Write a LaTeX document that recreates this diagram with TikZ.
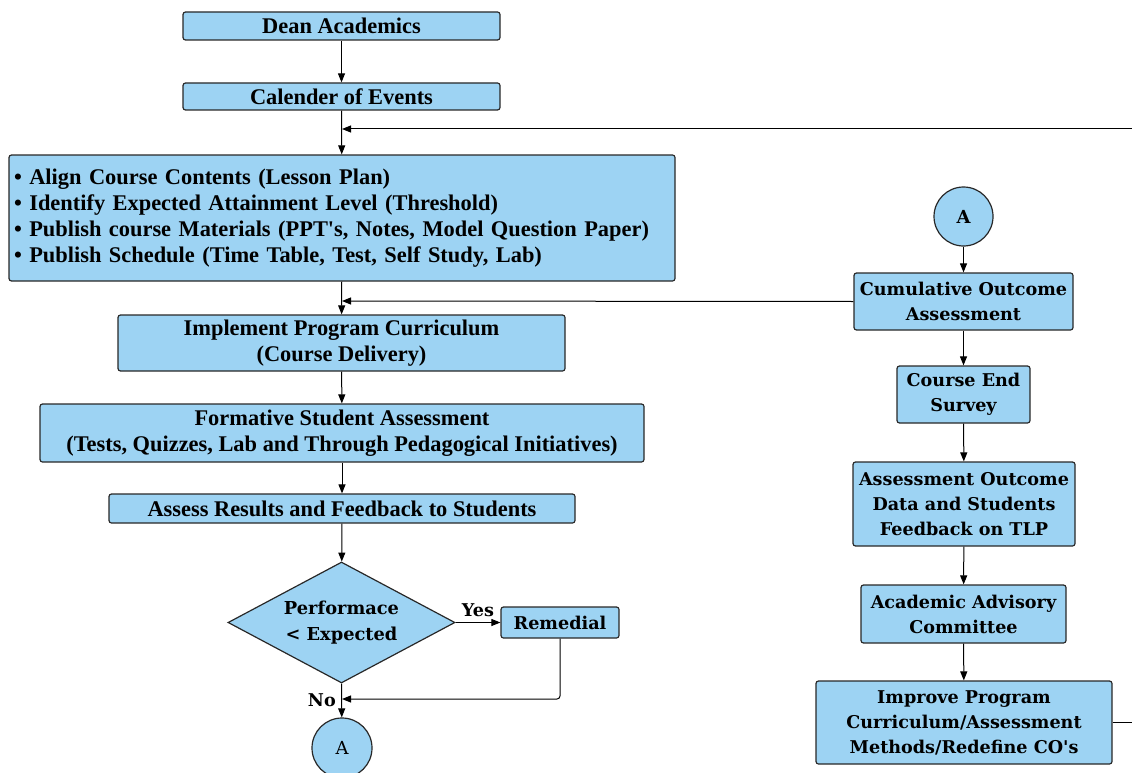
\documentclass[tikz,border=0pt]{standalone}
\usepackage{fontspec}
\setmainfont{Liberation Serif}[Ligatures=TeXOff]
\newfontfamily\dvs{DejaVu Serif}[Ligatures=TeXOff]
\usetikzlibrary{shapes.geometric,arrows.meta}
\definecolor{boxblue}{RGB}{157,211,243}
\definecolor{edge}{RGB}{40,40,40}
\tikzset{
  box/.style={draw=edge,line width=1.2pt,fill=boxblue,rounded corners=2.5pt,inner sep=0pt,align=center,font=\bfseries\fontsize{22.4}{26}\selectfont},
  rbox/.style={box,font=\dvs\bfseries\fontsize{17.6}{25}\selectfont},
  conn/.style={line width=1pt,draw=black},
  arr/.style={conn,-{Triangle[length=9pt,width=7pt]}},
  lbl/.style={font=\dvs\bfseries\fontsize{17.6}{20}\selectfont,inner sep=0pt}
}
\begin{document}
\begin{tikzpicture}[x=1pt,y=-1pt]
\useasboundingbox (0,0) rectangle (1132,773);
% left column
\node[box,minimum width=317pt,minimum height=28pt] (dean) at (341.5,26) {Dean Academics};
\node[box,minimum width=317pt,minimum height=27pt] (cal) at (341.5,96.5) {Calender of Events};
\node[box,minimum height=126pt,text width=656pt,inner xsep=5pt,align=left] (bul) at (342,218)
 {• Align Course Contents (Lesson Plan)\\
  • Identify Expected Attainment Level (Threshold)\\
  • Publish course Materials (PPT's, Notes, Model Question Paper)\\
  • Publish Schedule (Time Table, Test, Self Study, Lab)\\[10pt]};
\node[box,minimum width=447pt,minimum height=56pt] (impl) at (341.5,343) {Implement Program Curriculum\\(Course Delivery)};
\node[box,minimum width=604pt,minimum height=58pt] (form) at (342,433) {Formative Student Assessment\\(Tests, Quizzes, Lab and Through Pedagogical Initiatives)};
\node[box,minimum width=466pt,minimum height=29pt] (assess) at (342,508.5) {Assess Results and Feedback to Students};
\node[box,rounded corners=0pt,shape=diamond,aspect=1.876,minimum width=227pt,minimum height=121pt,font=\dvs\bfseries\fontsize{17.8}{26}\selectfont] (dia) at (341.5,622.5) {Performace\\< Expected};
\node[rbox,minimum width=118pt,minimum height=31pt] (rem) at (560,622.5) {Remedial};
\node[box,shape=circle,minimum size=60pt,font=\dvs\fontsize{18}{20}\selectfont] (a1) at (342,748) {A};
% right column
\node[box,shape=circle,minimum size=59pt,font=\dvs\bfseries\fontsize{18}{20}\selectfont] (a2) at (963.5,216.5) {A};
\node[rbox,minimum width=219pt,minimum height=57pt] (cum) at (963.5,301.5) {Cumulative Outcome\\Assessment};
\node[rbox,minimum width=133pt,minimum height=57pt] (ces) at (963.5,394.5) {Course End\\Survey};
\node[rbox,minimum width=222pt,minimum height=84pt] (aod) at (964,504) {Assessment Outcome\\Data and Students\\Feedback on TLP};
\node[rbox,minimum width=205pt,minimum height=58pt] (aac) at (963.5,614) {Academic Advisory\\Committee};
\node[rbox,minimum width=296pt,minimum height=83pt] (imp) at (964,722.5) {Improve Program\\Curriculum/Assessment\\Methods/Redefine CO's};
% helper coordinates
\coordinate (j1) at (342,129);
\coordinate (j2) at (342,301);
\coordinate (j3) at (342,699);
\coordinate (out) at (1150,722.5);
\coordinate (outtop) at (1150,129);
\coordinate (rcorner) at (560,699);
% connectors
\draw[arr] (dean) -- (cal);
\draw[arr] (cal) -- (bul);
\draw[arr] (imp.east) -- (out) -- (outtop) -- (j1);
\draw[arr] (bul) -- (impl);
\draw[arr] (cum.west) -- (j2);
\draw[arr] (impl) -- (form);
\draw[arr] (form) -- (assess);
\draw[arr] (assess) -- (dia);
\draw[arr] (dia.east) -- node[lbl,above=5pt] (yes) {Yes} (rem.west);
\draw[arr,rounded corners=3pt] (rem.south) -- (rcorner) -- (j3);
\draw[arr] (dia.south) -- (a1);
\node[lbl,anchor=east] (no) at (336,700) {No};
\draw[arr] (a2) -- (cum);
\draw[arr] (cum) -- (ces);
\draw[arr] (ces) -- (aod);
\draw[arr] (aod) -- (aac);
\draw[arr] (aac) -- (imp);
\end{tikzpicture}
\end{document}
